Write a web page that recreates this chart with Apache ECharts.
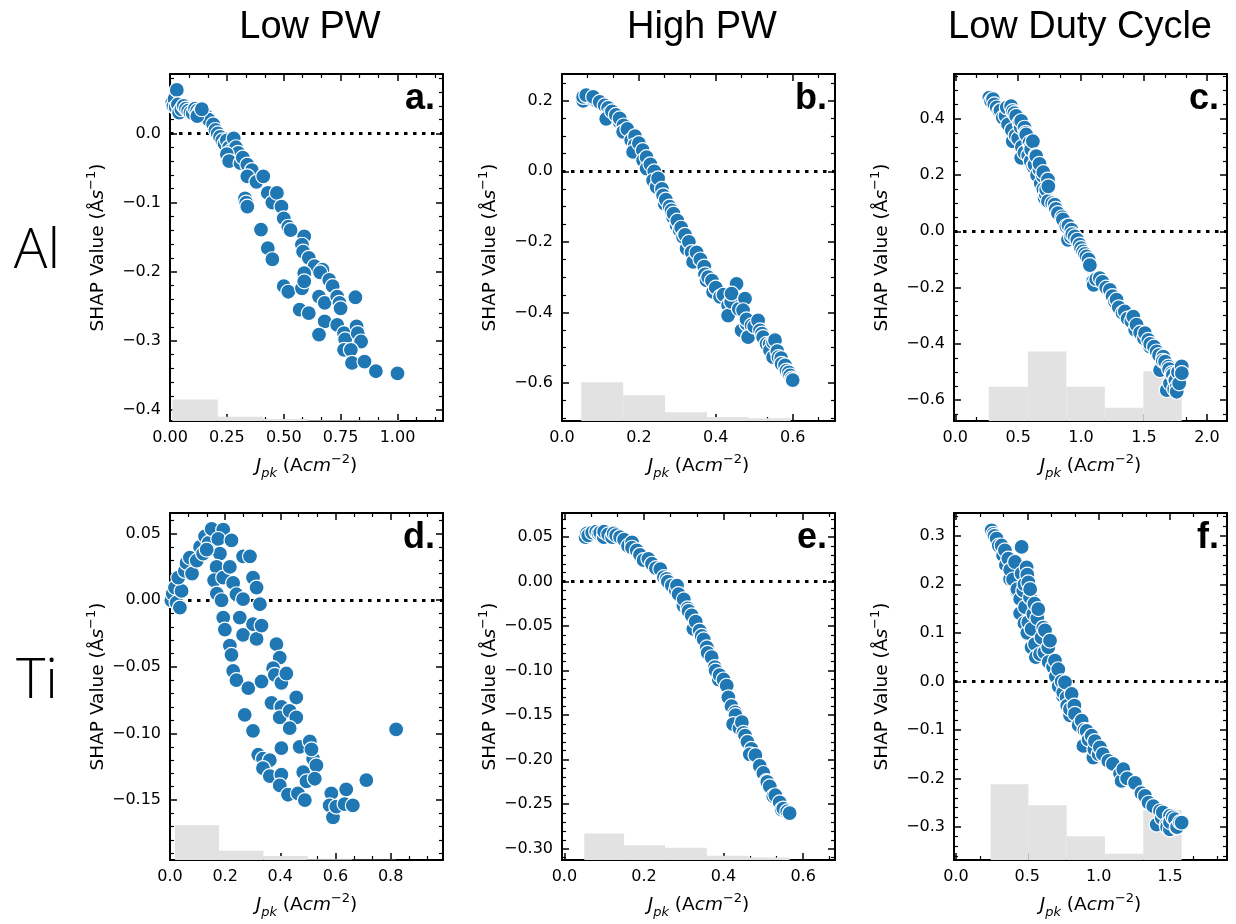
<!DOCTYPE html>
<html><head><meta charset="utf-8">
<script src="https://cdn.jsdelivr.net/npm/echarts@6/dist/echarts.min.js"></script>
<style>html,body{margin:0;padding:0;background:#fff}#c{width:1236px;height:924px}</style>
</head><body><div id="c"></div><script>
// ---------------- DATA ----------------
const colTitles = ['Low PW', 'High PW', 'Low Duty Cycle'];
const rowTitles = ['Al', 'Ti'];
const panelLetters = ['a.', 'b.', 'c.', 'd.', 'e.', 'f.'];

// Panel a: Al, Low PW  [Jpk, SHAP]
const alLowPW = [[0.01,0.045],[0.015,0.04],[0.02,0.05],[0.03,0.063],[0.025,0.038],[0.035,0.042],[0.04,0.03],[0.05,0.035],[0.06,0.04],[0.07,0.036],[0.08,0.033],[0.09,0.03],[0.10,0.029],[0.11,0.036],[0.12,0.033],[0.13,0.031],[0.14,0.028],[0.15,0.03],[0.16,0.025],[0.17,0.02],[0.12,0.025],[0.14,0.035],[0.19,0.013],[0.2,0.005],[0.21,0.0],[0.22,-0.005],[0.23,-0.01],[0.24,-0.015],[0.25,-0.01],[0.26,-0.02],[0.27,-0.025],[0.28,-0.007],[0.29,-0.02],[0.30,-0.028],[0.25,-0.03],[0.26,-0.04],[0.31,-0.043],[0.32,-0.035],[0.34,-0.045],[0.36,-0.053],[0.34,-0.062],[0.38,-0.07],[0.41,-0.062],[0.33,-0.094],[0.335,-0.10],[0.34,-0.106],[0.43,-0.086],[0.45,-0.10],[0.47,-0.086],[0.49,-0.106],[0.5,-0.123],[0.52,-0.135],[0.53,-0.14],[0.40,-0.139],[0.43,-0.166],[0.45,-0.182],[0.59,-0.149],[0.58,-0.161],[0.585,-0.171],[0.61,-0.18],[0.635,-0.192],[0.67,-0.197],[0.66,-0.201],[0.59,-0.202],[0.50,-0.221],[0.52,-0.229],[0.58,-0.224],[0.59,-0.214],[0.70,-0.212],[0.715,-0.221],[0.655,-0.236],[0.68,-0.245],[0.735,-0.236],[0.745,-0.245],[0.75,-0.253],[0.57,-0.255],[0.61,-0.26],[0.68,-0.272],[0.655,-0.291],[0.735,-0.277],[0.765,-0.289],[0.77,-0.298],[0.815,-0.237],[0.82,-0.279],[0.825,-0.289],[0.84,-0.301],[0.765,-0.313],[0.795,-0.313],[0.80,-0.332],[0.855,-0.33],[0.905,-0.344],[1.0,-0.347]];
const alLowPWBins = [0.01,0.21,0.41,0.61,0.81,1.01];
const alLowPWHist = [-0.385,-0.410,-0.413,-0.415,-0.415];

// Panel b: Al, High PW
const alHighPW = [[0.055,0.2],[0.06,0.215],[0.07,0.21],[0.08,0.205],[0.09,0.2],[0.1,0.195],[0.055,0.211],[0.063,0.216],[0.081,0.211],[0.098,0.197],[0.111,0.187],[0.12,0.18],[0.124,0.164],[0.115,0.149],[0.13,0.17],[0.14,0.16],[0.15,0.14],[0.15,0.15],[0.16,0.13],[0.159,0.112],[0.17,0.12],[0.18,0.088],[0.19,0.1],[0.189,0.074],[0.185,0.055],[0.2,0.08],[0.21,0.06],[0.211,0.031],[0.22,0.04],[0.22,0.008],[0.23,0.02],[0.24,0.0],[0.237,-0.026],[0.246,-0.044],[0.25,-0.02],[0.26,-0.05],[0.263,-0.068],[0.267,-0.092],[0.27,-0.08],[0.28,-0.1],[0.285,-0.111],[0.289,-0.13],[0.29,-0.12],[0.298,-0.153],[0.3,-0.14],[0.306,-0.167],[0.31,-0.16],[0.315,-0.186],[0.32,-0.18],[0.324,-0.219],[0.33,-0.2],[0.337,-0.229],[0.341,-0.257],[0.35,-0.23],[0.36,-0.25],[0.37,-0.27],[0.372,-0.292],[0.376,-0.309],[0.38,-0.3],[0.39,-0.31],[0.393,-0.342],[0.4,-0.33],[0.411,-0.356],[0.42,-0.35],[0.432,-0.38],[0.432,-0.409],[0.44,-0.37],[0.454,-0.319],[0.441,-0.347],[0.46,-0.39],[0.476,-0.361],[0.471,-0.394],[0.467,-0.451],[0.48,-0.432],[0.48,-0.42],[0.493,-0.437],[0.484,-0.47],[0.5,-0.44],[0.51,-0.423],[0.515,-0.451],[0.52,-0.46],[0.523,-0.47],[0.532,-0.489],[0.54,-0.49],[0.541,-0.508],[0.549,-0.484],[0.554,-0.479],[0.549,-0.527],[0.56,-0.51],[0.563,-0.527],[0.57,-0.53],[0.571,-0.546],[0.58,-0.55],[0.584,-0.565],[0.59,-0.57],[0.593,-0.579],[0.597,-0.588],[0.6,-0.592]];
const alHighPWBins = [0.05,0.159,0.268,0.377,0.486,0.595];
const alHighPWHist = [-0.598,-0.635,-0.683,-0.697,-0.700];

// Panel c: Al, Low Duty Cycle
const alLowDC = [[0.271,0.475],[0.285,0.463],[0.3,0.47],[0.311,0.451],[0.33,0.44],[0.351,0.427],[0.36,0.43],[0.378,0.404],[0.4,0.41],[0.41,0.44],[0.42,0.38],[0.444,0.445],[0.457,0.427],[0.457,0.32],[0.45,0.36],[0.47,0.42],[0.48,0.34],[0.484,0.41],[0.5,0.33],[0.511,0.386],[0.52,0.37],[0.524,0.392],[0.524,0.261],[0.53,0.3],[0.551,0.368],[0.55,0.28],[0.56,0.35],[0.564,0.344],[0.58,0.27],[0.59,0.315],[0.6,0.25],[0.6,0.3],[0.604,0.291],[0.617,0.32],[0.62,0.23],[0.63,0.237],[0.64,0.27],[0.644,0.267],[0.65,0.2],[0.67,0.22],[0.67,0.24],[0.68,0.17],[0.697,0.196],[0.7,0.15],[0.7,0.21],[0.71,0.119],[0.72,0.13],[0.723,0.148],[0.737,0.184],[0.737,0.107],[0.74,0.16],[0.77,0.1],[0.79,0.095],[0.8,0.08],[0.816,0.065],[0.85,0.05],[0.856,0.042],[0.883,0.018],[0.896,-0.03],[0.9,0.02],[0.92,-0.02],[0.923,0.006],[0.93,-0.01],[0.949,-0.018],[0.97,-0.03],[0.989,-0.047],[1.0,-0.06],[1.016,-0.071],[1.03,-0.08],[1.043,-0.089],[1.06,-0.1],[1.07,-0.12],[1.096,-0.178],[1.1,-0.19],[1.12,-0.17],[1.149,-0.166],[1.17,-0.18],[1.2,-0.2],[1.229,-0.208],[1.25,-0.23],[1.27,-0.25],[1.282,-0.243],[1.3,-0.27],[1.33,-0.29],[1.348,-0.285],[1.37,-0.31],[1.4,-0.32],[1.415,-0.303],[1.43,-0.35],[1.441,-0.332],[1.47,-0.36],[1.5,-0.38],[1.508,-0.362],[1.535,-0.386],[1.548,-0.41],[1.55,-0.4],[1.58,-0.41],[1.601,-0.427],[1.62,-0.44],[1.628,-0.493],[1.654,-0.445],[1.65,-0.46],[1.668,-0.463],[1.681,-0.564],[1.694,-0.481],[1.7,-0.49],[1.707,-0.54],[1.721,-0.504],[1.73,-0.51],[1.74,-0.56],[1.747,-0.528],[1.75,-0.53],[1.761,-0.552],[1.76,-0.57],[1.77,-0.5],[1.78,-0.54],[1.8,-0.48],[1.801,-0.504]];
const alLowDCBins = [0.266,0.577,0.883,1.189,1.495,1.8];
const alLowDCHist = [-0.552,-0.427,-0.552,-0.627,-0.497];

// Panel d: Ti, Low PW
const tiLowPW = [[0.005,0.0],[0.01,0.005],[0.018,0.0095],[0.024,-0.0018],[0.036,-0.0055],[0.042,0.007],[0.03,0.017],[0.054,0.022],[0.06,0.028],[0.072,0.032],[0.08,0.02],[0.097,0.0297],[0.109,0.04],[0.12,0.035],[0.127,0.048],[0.14,0.043],[0.151,0.0535],[0.193,0.053],[0.175,0.046],[0.181,0.035],[0.133,0.038],[0.169,0.025],[0.16,0.015],[0.17,0.005],[0.193,0.017],[0.187,0.0],[0.193,-0.013],[0.199,-0.022],[0.217,0.025],[0.229,0.013],[0.223,0.045],[0.241,0.0045],[0.265,0.0008],[0.253,-0.013],[0.265,-0.026],[0.217,-0.034],[0.223,-0.041],[0.229,-0.053],[0.241,-0.06],[0.265,0.033],[0.29,0.033],[0.284,-0.066],[0.271,-0.086],[0.301,-0.098],[0.301,0.017],[0.314,0.0095],[0.326,-0.003],[0.301,-0.018],[0.314,-0.029],[0.332,-0.019],[0.332,-0.061],[0.32,-0.116],[0.337,-0.119],[0.362,-0.12],[0.337,-0.126],[0.362,-0.132],[0.386,-0.033],[0.398,-0.043],[0.374,-0.051],[0.38,-0.056],[0.404,-0.062],[0.422,-0.055],[0.368,-0.077],[0.404,-0.08],[0.398,-0.088],[0.434,-0.083],[0.458,-0.073],[0.458,-0.088],[0.434,-0.096],[0.404,-0.111],[0.404,-0.131],[0.398,-0.139],[0.428,-0.146],[0.464,-0.145],[0.489,-0.15],[0.483,-0.129],[0.495,-0.136],[0.47,-0.11],[0.507,-0.106],[0.519,-0.119],[0.531,-0.124],[0.525,-0.134],[0.513,-0.112],[0.585,-0.145],[0.579,-0.154],[0.591,-0.163],[0.603,-0.155],[0.639,-0.142],[0.633,-0.153],[0.663,-0.154],[0.712,-0.135],[0.82,-0.097]];
const tiLowPWBins = [0.018,0.178,0.339,0.499,0.66,0.82];
const tiLowPWHist = [-0.169,-0.188,-0.192,-0.1945,-0.1948];

// Panel e: Ti, High PW
const tiHighPW = [[0.053,0.05],[0.057,0.054],[0.06,0.052],[0.07,0.055],[0.08,0.056],[0.086,0.054],[0.09,0.055],[0.099,0.05],[0.1,0.056],[0.11,0.053],[0.12,0.05],[0.124,0.054],[0.13,0.052],[0.14,0.05],[0.15,0.047],[0.16,0.04],[0.17,0.044],[0.17,0.038],[0.182,0.035],[0.19,0.03],[0.199,0.024],[0.211,0.0255],[0.22,0.02],[0.23,0.015],[0.241,0.014],[0.25,0.005],[0.257,0.003],[0.26,0.0],[0.27,-0.0045],[0.28,-0.01],[0.283,-0.0045],[0.287,-0.014],[0.299,-0.027],[0.3,-0.02],[0.31,-0.03],[0.312,-0.033],[0.32,-0.038],[0.324,-0.053],[0.33,-0.045],[0.34,-0.055],[0.345,-0.061],[0.35,-0.065],[0.358,-0.074],[0.36,-0.08],[0.37,-0.085],[0.378,-0.096],[0.38,-0.1],[0.388,-0.11],[0.39,-0.105],[0.4,-0.11],[0.408,-0.117],[0.412,-0.13],[0.42,-0.14],[0.429,-0.147],[0.43,-0.15],[0.424,-0.16],[0.44,-0.165],[0.446,-0.158],[0.45,-0.17],[0.454,-0.173],[0.46,-0.18],[0.47,-0.188],[0.466,-0.194],[0.48,-0.195],[0.491,-0.207],[0.5,-0.215],[0.508,-0.224],[0.51,-0.225],[0.516,-0.23],[0.525,-0.241],[0.53,-0.24],[0.541,-0.248],[0.546,-0.256],[0.55,-0.255],[0.56,-0.258],[0.566,-0.26]];
const tiHighPWBins = [0.05,0.15,0.253,0.358,0.462,0.566];
const tiHighPWHist = [-0.283,-0.296,-0.299,-0.308,-0.310];

// Panel f: Ti, Low Duty Cycle
const tiLowDC = [[0.25,0.311],[0.262,0.304],[0.27,0.3],[0.285,0.294],[0.3,0.28],[0.32,0.28],[0.33,0.26],[0.343,0.27],[0.35,0.24],[0.367,0.253],[0.379,0.211],[0.38,0.23],[0.4,0.21],[0.414,0.246],[0.425,0.187],[0.43,0.19],[0.45,0.17],[0.46,0.277],[0.46,0.222],[0.472,0.187],[0.45,0.14],[0.48,0.2],[0.484,0.153],[0.48,0.12],[0.495,0.235],[0.5,0.22],[0.507,0.204],[0.5,0.1],[0.507,0.122],[0.519,0.173],[0.52,0.19],[0.53,0.108],[0.53,0.07],[0.542,0.139],[0.55,0.16],[0.554,0.077],[0.56,0.05],[0.57,0.13],[0.577,0.149],[0.589,0.056],[0.6,0.09],[0.612,0.111],[0.62,0.06],[0.624,0.105],[0.647,0.07],[0.65,0.04],[0.659,0.084],[0.68,0.03],[0.694,0.043],[0.7,0.01],[0.717,0.025],[0.72,-0.01],[0.741,0.0],[0.75,-0.03],[0.752,-0.023],[0.764,-0.002],[0.776,-0.033],[0.78,-0.05],[0.8,-0.07],[0.799,-0.057],[0.811,-0.026],[0.83,-0.05],[0.834,-0.067],[0.86,-0.09],[0.881,-0.081],[0.893,-0.133],[0.9,-0.1],[0.916,-0.102],[0.93,-0.12],[0.951,-0.112],[0.963,-0.157],[0.97,-0.14],[0.974,-0.123],[1.0,-0.15],[1.009,-0.136],[1.03,-0.15],[1.068,-0.164],[1.1,-0.17],[1.15,-0.19],[1.161,-0.205],[1.173,-0.181],[1.2,-0.2],[1.255,-0.209],[1.3,-0.23],[1.325,-0.236],[1.35,-0.25],[1.383,-0.257],[1.407,-0.295],[1.43,-0.267],[1.442,-0.281],[1.45,-0.27],[1.477,-0.295],[1.48,-0.3],[1.5,-0.277],[1.5,-0.305],[1.5,-0.29],[1.52,-0.28],[1.535,-0.284],[1.547,-0.301],[1.55,-0.3],[1.57,-0.29],[1.582,-0.291]];
const tiLowDCBins = [0.243,0.507,0.776,1.044,1.313,1.582];
const tiLowDCHist = [-0.212,-0.255,-0.319,-0.355,-0.265];

// axis ranges: [min, max, major step, decimals]
const xRanges = [[0,1.2,0.25,2],[0,0.71,0.2,1],[-0.01,2.16,0.5,1],[0,0.99,0.2,1],[-0.006,0.68,0.2,1],[-0.014,1.90,0.5,1]];
const yRanges = [[-0.416,0.086,0.1,1],[-0.708,0.276,0.2,1],[-0.674,0.559,0.2,1],[-0.195,0.0655,0.05,2],[-0.3127,0.077,0.05,2],[-0.368,0.347,0.1,1]];
const yMinorSplit = [5,4,4,5,5,5];

// ---------------- LAYOUT ----------------
const boxes = [[170,74],[562,74],[954,74],[170,513],[562,513],[954,513]];
const BW = 273, BH = 347;
const seriesPts = [alLowPW, alHighPW, alLowDC, tiLowPW, tiHighPW, tiLowDC];
const seriesBins = [alLowPWBins, alHighPWBins, alLowDCBins, tiLowPWBins, tiHighPWBins, tiLowDCBins];
const seriesHist = [alLowPWHist, alHighPWHist, alLowDCHist, tiLowPWHist, tiHighPWHist, tiLowDCHist];

const FONT = 'DejaVu Sans';
function isMult(v, step) { const r = v / step; return Math.abs(r - Math.round(r)) < 1e-6; }
function fmt(dec) { return v => (v < -1e-9 ? '\u2212' : '') + Math.abs(v).toFixed(dec); }

const nameRich = {
  n: {fontSize: 18.5, fontFamily: FONT, color: '#000', lineHeight: 27},
  i: {fontSize: 18.5, fontFamily: FONT, fontStyle: 'italic', color: '#000', lineHeight: 27},
  sub: {fontSize: 13, fontFamily: FONT, fontStyle: 'italic', color: '#000', verticalAlign: 'bottom', lineHeight: 14},
  sup: {fontSize: 13, fontFamily: FONT, color: '#000', verticalAlign: 'top', lineHeight: 14}
};
const xName = '{i|J}{sub|pk}{n| (A}{i|cm}{sup|\u22122}{n|)}';
const yName = '{n|SHAP Value (\u00C5}{i|s}{sup|\u22121}{n|)}';

const grids = [], xAxes = [], yAxes = [], series = [], graphics = [];
boxes.forEach((b, i) => {
  grids.push({left: b[0], top: b[1], width: BW, height: BH, containLabel: false, outerBoundsMode: 'none'});
  const xr = xRanges[i], yr = yRanges[i];
  ['bottom', 'top'].forEach(pos => {
    xAxes.push({
      type: 'value', gridIndex: i, position: pos, min: xr[0], max: xr[1], minInterval: xr[2], maxInterval: xr[2],
      axisLine: {show: true, onZero: false, lineStyle: {color: '#000', width: 2}},
      axisTick: {show: true, inside: true, length: 7, lineStyle: {color: '#000', width: 1.5}},
      minorTick: {show: true, splitNumber: 3, length: 4, lineStyle: {color: '#000', width: 1.2}},
      splitLine: {show: false}, minorSplitLine: {show: false},
      axisLabel: {show: pos === 'bottom', margin: 9, fontSize: 16, fontFamily: FONT, color: '#000',
        formatter: fmt(xr[3]), showMinLabel: isMult(xr[0], xr[2]), showMaxLabel: isMult(xr[1], xr[2])},
      name: pos === 'bottom' ? xName : '', nameLocation: 'middle', nameGap: 32,
      nameTextStyle: {rich: nameRich}
    });
  });
  ['left', 'right'].forEach(pos => {
    yAxes.push({
      type: 'value', gridIndex: i, position: pos, min: yr[0], max: yr[1], minInterval: yr[2], maxInterval: yr[2],
      axisLine: {show: true, onZero: false, lineStyle: {color: '#000', width: 2}},
      axisTick: {show: true, inside: true, length: 7, lineStyle: {color: '#000', width: 1.5}},
      minorTick: {show: true, splitNumber: yMinorSplit[i], length: 4, lineStyle: {color: '#000', width: 1.2}},
      splitLine: {show: false}, minorSplitLine: {show: false},
      axisLabel: {show: pos === 'left', margin: 9, fontSize: 16, fontFamily: FONT, color: '#000',
        formatter: fmt(yr[3]), showMinLabel: isMult(yr[0], yr[2]), showMaxLabel: isMult(yr[1], yr[2])},
      name: pos === 'left' ? yName : '', nameLocation: 'middle', nameGap: 58,
      nameTextStyle: {rich: nameRich}
    });
  });
  const ymin = yr[0];
  const bins = seriesBins[i], tops = seriesHist[i];
  const histData = tops.map((t, k) => [bins[k], bins[k + 1], t]);
  series.push({
    type: 'custom', xAxisIndex: 2 * i, yAxisIndex: 2 * i, z: 1, silent: true, clip: true,
    encode: {x: [0, 1], y: 2},
    data: histData,
    renderItem: (params, api) => {
      const p0 = api.coord([api.value(0), api.value(2)]);
      const p1 = api.coord([api.value(1), ymin]);
      return {type: 'rect', shape: {x: p0[0], y: p0[1], width: p1[0] - p0[0], height: p1[1] - p0[1]},
        style: {fill: '#e2e2e2'}};
    }
  });
  series.push({
    type: 'scatter', xAxisIndex: 2 * i, yAxisIndex: 2 * i, z: 3, silent: true,
    data: seriesPts[i], symbol: 'circle', symbolSize: 15,
    itemStyle: {color: '#1f77b4', borderColor: '#ffffff', borderWidth: 1.2, opacity: 1},
    markLine: {silent: true, symbol: 'none', z: 2, label: {show: false},
      lineStyle: {color: '#000', width: 3, type: [3.5, 5.5], opacity: 1},
      emphasis: {disabled: true},
      data: [{yAxis: 0}]}
  });
  graphics.push({type: 'text', z: 10, style: {text: panelLetters[i], x: b[0] + BW - 8, y: b[1] + 25,
    align: 'right', verticalAlign: 'middle', font: 'bold 36px "Liberation Sans", Arial, sans-serif', fill: '#000'}});
});

const colCenters = [310, 702, 1080];
colTitles.forEach((t, k) => graphics.push({type: 'text', style: {text: t, x: colCenters[k], y: 28,
  align: 'center', verticalAlign: 'middle', font: '38px "Liberation Sans", Arial, sans-serif', fill: '#000'}}));
const rowCenters = [252, 682];
rowTitles.forEach((t, k) => graphics.push({type: 'text', style: {text: t, x: 37, y: rowCenters[k],
  align: 'center', verticalAlign: 'middle', font: '300 56px "Open Sans", "Lato", sans-serif', fill: '#000'}}));

const chart = echarts.init(document.getElementById('c'), null, {renderer: 'canvas'});
chart.setOption({
  animation: false, backgroundColor: '#fff',
  grid: grids, xAxis: xAxes, yAxis: yAxes, series: series, graphic: graphics
});
</script></body></html>
